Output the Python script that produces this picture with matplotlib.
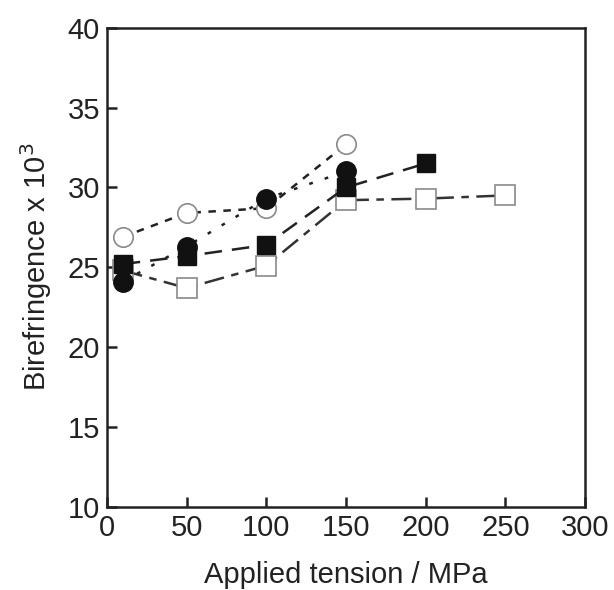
import numpy as np
import matplotlib.pyplot as plt

plt.rcParams['font.family'] = ['Liberation Sans', 'DejaVu Sans']

# data
x_open_circ = [10, 50, 100, 150]
y_open_circ = [26.9, 28.4, 28.7, 32.7]

x_fill_circ = [10, 50, 100, 150]
y_fill_circ = [24.1, 26.3, 29.3, 31.0]

x_fill_sq = [10, 50, 100, 150, 200]
y_fill_sq = [25.2, 25.7, 26.4, 30.0, 31.5]

x_open_sq = [10, 50, 100, 150, 200, 250]
y_open_sq = [24.8, 23.7, 25.1, 29.2, 29.3, 29.5]

fig = plt.figure(figsize=(6.14, 5.90), dpi=100)
ax = fig.add_axes([0.174, 0.141, 0.779, 0.812])

ms = 15
ax.plot(x_open_sq, y_open_sq, color='#333333', lw=1.8, ls=(0, (8, 3, 3, 3)),
        marker='s', ms=ms, mfc='white', mec='#8a8a8a', mew=1.2, zorder=2)
ax.plot(x_fill_sq, y_fill_sq, color='#222222', lw=1.8, ls=(0, (7, 4)),
        marker='s', ms=ms - 2, mfc='#111111', mec='#111111', zorder=3)
ax.plot(x_open_circ, y_open_circ, color='#222222', lw=1.8, ls=(0, (3, 3)),
        marker='o', ms=ms - 1, mfc='white', mec='#8a8a8a', mew=1.2, zorder=2)
ax.plot(x_fill_circ, y_fill_circ, color='#222222', lw=1.8, ls=(0, (1.5, 5)),
        marker='o', ms=ms - 1, mfc='#111111', mec='#111111', zorder=4)

ax.set_xlim(0, 300)
ax.set_ylim(10, 40)
ax.set_xticks([0, 50, 100, 150, 200, 250, 300])
ax.set_yticks([10, 15, 20, 25, 30, 35, 40])
ax.tick_params(direction='in', length=7, width=1.8, labelsize=21,
               top=False, right=False, pad=5, colors='#222222')
for s in ax.spines.values():
    s.set_linewidth(1.8)
    s.set_color('#222222')

ax.set_xlabel('Applied tension / MPa', fontsize=21, labelpad=14, color='#222222')
ax.set_ylabel('Birefringence x 10$^3$', fontsize=21, labelpad=10, color='#222222')

fig.savefig('out.png', dpi=100)
